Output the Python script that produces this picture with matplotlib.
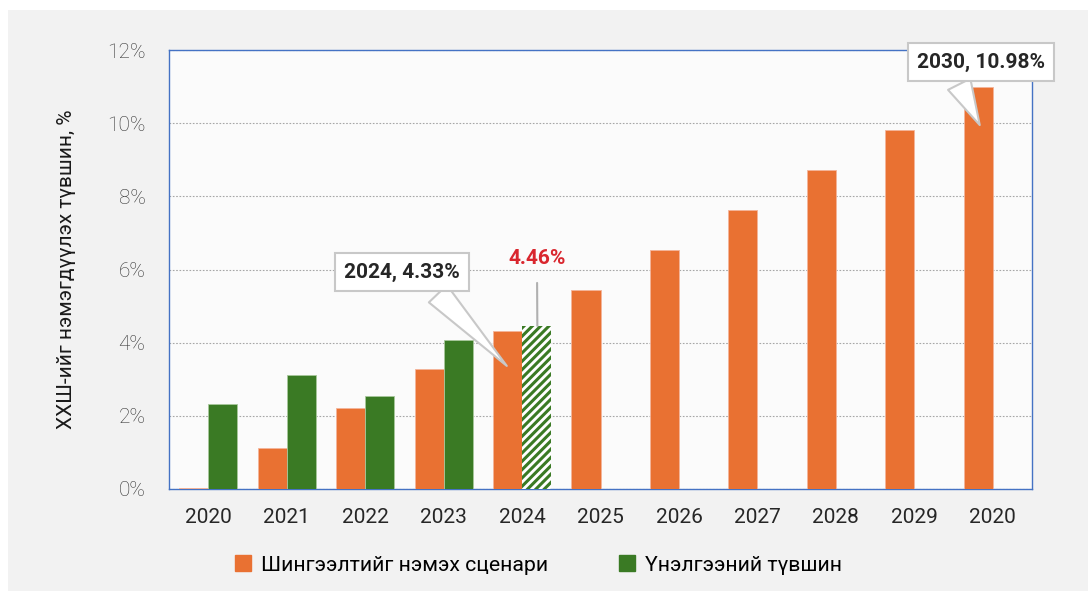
import numpy as np
import matplotlib.pyplot as plt
from matplotlib.patches import Rectangle, Patch

plt.rcParams['font.family'] = ['Roboto', 'DejaVu Sans']
plt.rcParams['hatch.linewidth'] = 2.2

# data
years = ['2020', '2021', '2022', '2023', '2024', '2025', '2026', '2027', '2028', '2029', '2020']
scenario = [0.02, 1.12, 2.21, 3.28, 4.33, 5.44, 6.53, 7.62, 8.72, 9.81, 10.98]
assessed = [2.32, 3.11, 2.54, 4.07, 4.46]
yticks = [0, 2, 4, 6, 8, 10, 12]

orange = '#E97132'
green = '#3A7A24'
fs = 15

fig = plt.figure(figsize=(10.88, 5.91), dpi=100, facecolor='white')
# grey panel behind everything
fig.patches.append(Rectangle((8 / 1088, 0), 1, 1 - 10 / 591, transform=fig.transFigure,
                             facecolor='#f2f2f2', edgecolor='none', zorder=-10))

ax = fig.add_axes([169 / 1088, 1 - 489 / 591, 863 / 1088, 439 / 591])
ax.set_facecolor('#fbfbfb')

x = np.arange(len(years))
w = 0.37

ax.bar(x - w / 2, scenario, w, color=orange, edgecolor='#f4b49a', linewidth=0.6, zorder=3)
ax.bar(x[:4] + w / 2, assessed[:4], w, color=green, edgecolor='#a8c89b', linewidth=0.6, zorder=3)
# estimate for 2024 drawn as hatched bar
ax.bar(x[4] + w / 2, assessed[4], w, color='white', edgecolor=green, hatch='////',
       linewidth=0, zorder=3)

ax.set_xlim(-0.5, len(years) - 0.5)
ax.set_ylim(0, 12)
ax.set_yticks(yticks)
ax.set_yticklabels([f'{t}%' for t in yticks], fontsize=fs, color='#333333', fontweight='light')
ax.set_xticks(x)
ax.set_xticklabels(years, fontsize=fs, color='#262626')
ax.tick_params(axis='both', length=0)
ax.tick_params(axis='y', pad=17)
ax.tick_params(axis='x', pad=14)
ax.yaxis.grid(True, linestyle=(0, (1.5, 1.5)), color='#a6a6a6', linewidth=0.8, zorder=0)
for side in ['left', 'top', 'right', 'bottom']:
    ax.spines[side].set_color('#4472c4')
    ax.spines[side].set_linewidth(1.0)

ax.set_ylabel('ХХШ-ийг нэмэгдүүлэх түвшин, %', fontsize=fs, color='#1a1a1a', labelpad=22)

# callouts
bbox = dict(boxstyle='square,pad=0.45', fc='white', ec='#c8c8c8', lw=1.5)
ax.annotate('2024, 4.33%', xy=(3.83, 3.31), xytext=(2.47, 5.93),
            fontsize=fs, fontweight='bold', color='#262626', ha='center', va='center',
            bbox=bbox, zorder=5,
            arrowprops=dict(arrowstyle='wedge,tail_width=1.2,shrink_factor=0.5', fc='white',
                            ec='#c8c8c8', lw=1.5, relpos=(0.71, 0)))
ax.annotate('2030, 10.98%', xy=(9.85, 9.88), xytext=(9.85, 11.67),
            fontsize=fs, fontweight='bold', color='#262626', ha='center', va='center',
            bbox=bbox, zorder=5, annotation_clip=False,
            arrowprops=dict(arrowstyle='wedge,tail_width=1.2,shrink_factor=0.5', fc='white',
                            ec='#c8c8c8', lw=1.5, relpos=(0.28, 0)))
ax.annotate('4.46%', xy=(x[4] + w / 2 + 0.01, assessed[4]), xytext=(4.19, 6.31),
            fontsize=fs, fontweight='bold', color='#d9262e', ha='center', va='center',
            arrowprops=dict(arrowstyle='-', color='#b0b0b0', lw=1.5, shrinkA=9, shrinkB=0), zorder=5)

handles = [Patch(color=orange, label='Шингээлтийг нэмэх сценари'),
           Patch(color=green, label='Үнэлгээний түвшин')]
fig.legend(handles=handles, loc='center', bbox_to_anchor=(0.495, 1 - 565 / 591), ncol=2,
           frameon=False, fontsize=15.3, handlelength=0.75, handleheight=0.75,
           handletextpad=0.5, columnspacing=3.3)

fig.savefig('out.png', dpi=100, facecolor=fig.get_facecolor())
